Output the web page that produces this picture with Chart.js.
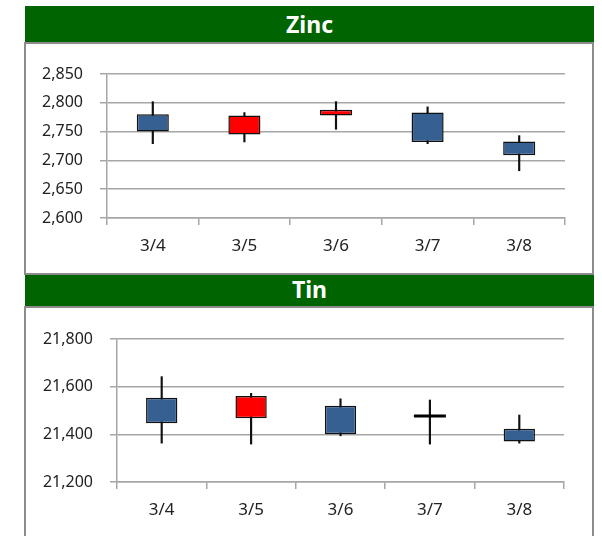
<!DOCTYPE html>
<html lang="en">
<head>
    <meta charset="UTF-8">
    <title>Zinc / Tin</title>
    <style>
        body { margin: 0; background: #fff; width: 602px; height: 536px; overflow: hidden; position: relative; }
        .head {
            position: absolute; left: 25px; width: 569px;
            background: #006400; color: #fff;
            font: bold 23px "Noto Sans", sans-serif;
            text-align: center;
        }
        .box {
            position: absolute; left: 24px; width: 566px;
            border: 2px solid #8c8c8c; background: #fff;
        }
        .box canvas { display: block; }
    </style>
</head>
<body>
    <div class="head" style="top:6px;height:36px;line-height:36px;">Zinc</div>
    <div class="head" style="top:270px;height:37px;line-height:39px;">Tin</div>
    <div class="box" style="top:42px;height:229px;z-index:2;"><canvas id="zinc" width="566" height="229"></canvas></div>
    <div class="box" style="top:306px;height:240px;"><canvas id="tin" width="566" height="228"></canvas></div>

    <script src="https://cdn.jsdelivr.net/npm/chart.js"></script>
    <script>
        var dates = ['3/4', '3/5', '3/6', '3/7', '3/8'];

        var zincOpen  = [2780, 2745, 2778, 2783, 2733];
        var zincClose = [2750, 2778, 2788, 2732, 2709];
        var zincHigh  = [2802, 2783, 2802, 2793, 2743];
        var zincLow   = [2729, 2732, 2754, 2729, 2682];
        var zincTicks = [2600, 2850, 50];

        var tinOpen  = [21554, 21468, 21520, 21477, 21423];
        var tinClose = [21447, 21561, 21400, 21477, 21370];
        var tinHigh  = [21642, 21572, 21549, 21544, 21481];
        var tinLow   = [21363, 21359, 21394, 21359, 21363];
        var tinTicks = [21200, 21800, 200];

        var UP = '#ff0000', DOWN = '#366092', GRID = '#a6a6a6';

        function candleChart(id, open, close, high, low, ticks, axisW, axisH, pad) {
            var bodies = open.map(function (o, i) { return [o, close[i]]; });
            var wicks = low.map(function (l, i) { return [l, high[i]]; });
            var colors = open.map(function (o, i) { return close[i] >= o ? UP : DOWN; });
            var doji = open.map(function (o, i) { return o === close[i] ? o : null; });

            return new Chart(document.getElementById(id), {
                type: 'bar',
                data: {
                    labels: dates,
                    datasets: [{
                        data: bodies,
                        backgroundColor: colors,
                        borderColor: '#111',
                        borderWidth: 1.5,
                        borderSkipped: false,
                        grouped: false,
                        categoryPercentage: 1,
                        barPercentage: 0.35,
                        order: 1
                    }, {
                        data: wicks,
                        backgroundColor: '#111',
                        borderWidth: 0,
                        grouped: false,
                        barThickness: 1.5,
                        order: 2
                    }, {
                        // open == close: drawn as a flat dash
                        type: 'line',
                        data: doji,
                        showLine: false,
                        pointStyle: 'line',
                        pointRadius: 16,
                        pointBorderWidth: 3,
                        pointBorderColor: '#000',
                        order: 0
                    }]
                },
                options: {
                    responsive: false,
                    animation: false,
                    layout: { padding: { top: pad[0], right: pad[1], left: 0, bottom: 0 } },
                    plugins: { legend: { display: false }, tooltip: { enabled: false } },
                    scales: {
                        x: {
                            afterFit: function (s) { s.height = axisH; },
                            grid: { drawOnChartArea: false, offset: true, color: GRID, lineWidth: 1.5, tickLength: 7 },
                            border: { color: GRID, width: 1.5 },
                            ticks: { color: '#222', padding: 11, font: { family: 'Noto Sans', size: 17 } }
                        },
                        y: {
                            min: ticks[0], max: ticks[1],
                            afterFit: function (s) { s.width = axisW; },
                            grid: { color: GRID, lineWidth: 1.5, tickLength: 7 },
                            border: { color: GRID, width: 1.5 },
                            ticks: {
                                stepSize: ticks[2], color: '#222', padding: 17,
                                font: { family: 'Noto Sans', size: 16 },
                                callback: function (v) { return v.toLocaleString('en-US'); }
                            }
                        }
                    }
                }
            });
        }

        candleChart('zinc', zincOpen, zincClose, zincHigh, zincLow, zincTicks, 81, 55, [30, 27]);
        candleChart('tin', tinOpen, tinClose, tinHigh, tinLow, tinTicks, 91, 54, [31, 28]);
    </script>
</body>
</html>
